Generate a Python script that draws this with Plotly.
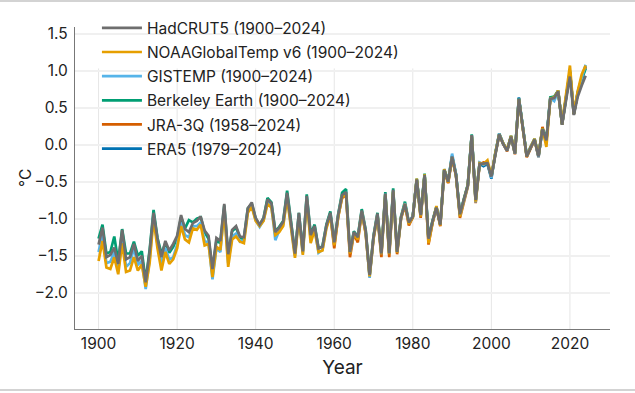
import plotly.graph_objects as go

years = list(range(1900, 2025))

hadcrut5 = [
    -1.35, -1.12, -1.52, -1.49, -1.39, -1.61, -1.15, -1.55, -1.52, -1.34,
    -1.57, -1.50, -1.86, -1.45, -0.92, -1.27, -1.52, -1.30, -1.43, -1.34,
    -1.23, -0.95, -1.14, -1.18, -1.06, -1.03, -0.97, -1.16, -1.23, -1.68,
    -1.26, -1.30, -0.80, -1.48, -1.15, -1.10, -1.24, -1.25, -0.86, -0.78,
    -0.99, -1.08, -0.99, -0.74, -0.79, -1.18, -1.12, -1.04, -0.65, -1.05,
    -1.47, -0.92, -1.44, -0.69, -1.22, -1.10, -1.40, -1.38, -1.09, -0.92,
    -1.32, -0.95, -0.68, -0.64, -1.45, -1.18, -1.25, -0.89, -1.16, -1.76,
    -1.24, -0.93, -1.47, -0.66, -1.47, -0.61, -1.45, -0.98, -0.80, -1.05,
    -0.97, -0.47, -0.95, -0.41, -1.27, -1.04, -0.85, -1.08, -0.34, -0.50,
    -0.16, -0.41, -0.94, -0.74, -0.55, 0.13, -0.75, -0.26, -0.26, -0.25,
    -0.43, -0.12, 0.14, 0.01, -0.08, 0.11, -0.12, 0.62, 0.24, -0.16,
    -0.04, 0.07, -0.16, 0.21, 0.06, 0.62, 0.63, 0.72, 0.27, 0.62,
    0.92, 0.40, 0.65, 0.80, 0.93,
]

noaa = [
    -1.57, -1.30, -1.66, -1.68, -1.52, -1.75, -1.33, -1.72, -1.70, -1.52,
    -1.70, -1.62, -1.92, -1.60, -1.00, -1.40, -1.70, -1.45, -1.61, -1.55,
    -1.40, -1.10, -1.28, -1.32, -1.13, -1.15, -1.08, -1.36, -1.34, -1.79,
    -1.38, -1.42, -0.90, -1.65, -1.28, -1.24, -1.31, -1.33, -0.92, -0.84,
    -1.03, -1.10, -1.03, -0.80, -0.85, -1.22, -1.18, -1.10, -0.72, -1.10,
    -1.53, -0.98, -1.49, -0.74, -1.33, -1.15, -1.45, -1.43, -1.13, -0.96,
    -1.36, -0.98, -0.70, -0.68, -1.47, -1.20, -1.28, -0.91, -1.19, -1.78,
    -1.26, -0.95, -1.48, -0.67, -1.48, -0.63, -1.46, -0.99, -0.80, -1.07,
    -0.98, -0.46, -0.97, -0.40, -1.33, -1.06, -0.83, -1.09, -0.33, -0.51,
    -0.17, -0.42, -0.97, -0.75, -0.55, 0.12, -0.77, -0.25, -0.26, -0.21,
    -0.42, -0.12, 0.14, 0.02, -0.07, 0.12, -0.11, 0.61, 0.25, -0.16,
    -0.03, 0.08, -0.15, 0.22, -0.03, 0.62, 0.64, 0.73, 0.28, 0.68,
    1.07, 0.42, 0.73, 0.95, 1.07,
]

gistemp = [
    -1.45, -1.20, -1.60, -1.58, -1.45, -1.70, -1.25, -1.65, -1.60, -1.40,
    -1.62, -1.57, -1.95, -1.55, -0.95, -1.35, -1.62, -1.40, -1.55, -1.52,
    -1.35, -1.05, -1.22, -1.25, -1.10, -1.10, -1.05, -1.30, -1.33, -1.82,
    -1.40, -1.45, -0.86, -1.60, -1.24, -1.20, -1.31, -1.30, -0.90, -0.82,
    -1.02, -1.11, -1.02, -0.78, -0.83, -1.29, -1.16, -1.08, -0.70, -1.08,
    -1.50, -0.95, -1.47, -0.71, -1.28, -1.13, -1.46, -1.42, -1.11, -0.94,
    -1.34, -0.96, -0.69, -0.66, -1.46, -1.19, -1.26, -0.90, -1.18, -1.80,
    -1.25, -0.94, -1.48, -0.66, -1.47, -0.62, -1.45, -0.99, -0.79, -1.06,
    -0.96, -0.47, -0.96, -0.41, -1.30, -1.05, -0.84, -1.08, -0.34, -0.50,
    -0.12, -0.40, -0.96, -0.76, -0.56, 0.13, -0.78, -0.24, -0.27, -0.24,
    -0.45, -0.12, 0.15, 0.02, -0.08, 0.12, -0.12, 0.62, 0.22, -0.15,
    -0.03, 0.08, -0.17, 0.21, 0.04, 0.63, 0.59, 0.73, 0.28, 0.66,
    0.98, 0.43, 0.72, 0.90, 1.08,
]

berkeley = [
    -1.27, -1.08, -1.47, -1.45, -1.24, -1.58, -1.14, -1.47, -1.47, -1.31,
    -1.50, -1.44, -1.84, -1.42, -0.88, -1.26, -1.47, -1.33, -1.46, -1.38,
    -1.26, -0.98, -1.13, -1.02, -1.05, -1.00, -0.98, -1.18, -1.27, -1.70,
    -1.30, -1.33, -0.82, -1.50, -1.17, -1.12, -1.26, -1.27, -0.86, -0.80,
    -1.00, -1.09, -0.99, -0.72, -0.78, -1.17, -1.11, -1.03, -0.62, -1.04,
    -1.46, -0.92, -1.43, -0.67, -1.21, -1.08, -1.40, -1.37, -1.08, -0.90,
    -1.31, -0.94, -0.65, -0.60, -1.44, -1.17, -1.24, -0.87, -1.15, -1.76,
    -1.23, -0.92, -1.46, -0.64, -1.46, -0.59, -1.44, -0.97, -0.77, -1.05,
    -0.97, -0.46, -0.94, -0.39, -1.27, -1.03, -0.84, -1.07, -0.33, -0.49,
    -0.15, -0.40, -0.94, -0.73, -0.54, 0.14, -0.75, -0.25, -0.26, -0.24,
    -0.43, -0.12, 0.15, 0.02, -0.07, 0.12, -0.11, 0.63, 0.25, -0.15,
    -0.03, 0.08, -0.15, 0.22, 0.07, 0.64, 0.65, 0.73, 0.28, 0.65,
    1.00, 0.42, 0.70, 0.88, 1.03,
]

jra_years = list(range(1958, 2025))
jra3q = [
    -1.10, -0.94,
    -1.40, -0.97, -0.72, -0.68, -1.52, -1.21, -1.32, -0.91, -1.20, -1.78,
    -1.27, -0.96, -1.52, -0.67, -1.52, -0.64, -1.48, -1.00, -0.82, -1.09,
    -0.98, -0.48, -0.99, -0.42, -1.35, -1.06, -0.85, -1.10, -0.36, -0.52,
    -0.18, -0.42, -0.99, -0.76, -0.57, 0.12, -0.79, -0.27, -0.24, -0.25,
    -0.44, -0.13, 0.13, 0.01, -0.09, 0.11, -0.13, 0.62, 0.23, -0.17,
    -0.05, 0.06, -0.17, 0.24, 0.05, 0.62, 0.63, 0.73, 0.27, 0.64,
    0.98, 0.41, 0.70, 0.90, 1.05,
]

era5_years = list(range(1979, 2025))
era5 = [
    -1.06,
    -0.98, -0.47, -0.96, -0.41, -1.29, -1.05, -0.85, -1.08, -0.34, -0.51,
    -0.16, -0.41, -0.95, -0.75, -0.55, 0.13, -0.76, -0.26, -0.29, -0.26,
    -0.46, -0.12, 0.14, 0.01, -0.08, 0.11, -0.12, 0.64, 0.24, -0.16,
    -0.04, 0.07, -0.16, 0.21, 0.06, 0.62, 0.62, 0.72, 0.27, 0.64,
    0.98, 0.41, 0.70, 0.89, 1.06,
]

x_ticks = [1900, 1920, 1940, 1960, 1980, 2000, 2020]
y_ticks = [-2.0, -1.5, -1.0, -0.5, 0.0, 0.5, 1.0, 1.5]

# draw order: bottom to top; legendrank gives the legend order
series = [
    ("ERA5 (1979–2024)", era5_years, era5, "#0072B2", 6),
    ("JRA-3Q (1958–2024)", jra_years, jra3q, "#D55E00", 5),
    ("Berkeley Earth (1900–2024)", years, berkeley, "#009E73", 4),
    ("GISTEMP (1900–2024)", years, gistemp, "#56B4E9", 3),
    ("NOAAGlobalTemp v6 (1900–2024)", years, noaa, "#E69F00", 2),
    ("HadCRUT5 (1900–2024)", years, hadcrut5, "#6E6E6E", 1),
]

fig = go.Figure()
for i, (name, xs, ys, col, rank) in enumerate(series):
    fig.add_trace(go.Scatter(
        x=xs, y=ys, mode="lines", name=name,
        line=dict(color=col, width=2.7),
        legendgroup=f"g{i}", legendrank=rank,
    ))

font_family = "Inter, Liberation Sans, Arial, sans-serif"
fs = 15.5

shapes = []
for xv in x_ticks:
    shapes.append(dict(type="line", xref="x", yref="y", x0=xv, x1=xv,
                       y0=-2.49, y1=1.03, layer="below",
                       line=dict(color="#e6e6e6", width=1)))
# frame lines top & bottom of the figure
shapes.append(dict(type="line", xref="paper", yref="paper",
                   x0=-0.1402, x1=1.0467, y0=1.086, y1=1.086,
                   line=dict(color="#c4c4c4", width=1.5)))
shapes.append(dict(type="line", xref="paper", yref="paper",
                   x0=-0.1402, x1=1.0467, y0=-0.202, y1=-0.202,
                   line=dict(color="#c4c4c4", width=1.5)))

fig.update_layout(
    width=635, height=393,
    margin=dict(l=75, r=25, t=27, b=64, autoexpand=False),
    paper_bgcolor="white", plot_bgcolor="white",
    font=dict(family=font_family, size=fs, color="#222222"),
    shapes=shapes,
    showlegend=True,
    legend=dict(
        traceorder="grouped", tracegroupgap=1,
        x=0.041, y=1.052, xanchor="left", yanchor="top",
        bgcolor="rgba(0,0,0,0)", font=dict(size=fs, color="#222222"),
        itemwidth=40,
    ),
    annotations=[dict(
        text="°C", xref="paper", yref="paper", x=-0.0935, y=0.5,
        xanchor="center", yanchor="middle", textangle=-90,
        showarrow=False, font=dict(size=fs, color="#222222"),
    )],
    xaxis=dict(
        range=[1894.0, 2030.2], tickvals=x_ticks, showgrid=False,
        showline=True, linecolor="#777777", linewidth=1.2,
        ticks="", ticklen=0, zeroline=False, automargin=False,
        title=dict(text="Year", standoff=8),
        tickfont=dict(size=fs),
    ),
    yaxis=dict(
        range=[-2.49, 1.59], tickvals=y_ticks, tickformat=".1f",
        showgrid=True, gridcolor="#f0f0f0", gridwidth=2,
        showline=True, linecolor="#777777", linewidth=1.2,
        ticks="", ticklen=0, ticklabelstandoff=3, zeroline=False,
        automargin=False,
        tickfont=dict(size=fs),
    ),
)

fig.write_html("out.html", config={"displayModeBar": False},
               post_script="document.body.style.margin='0';")
